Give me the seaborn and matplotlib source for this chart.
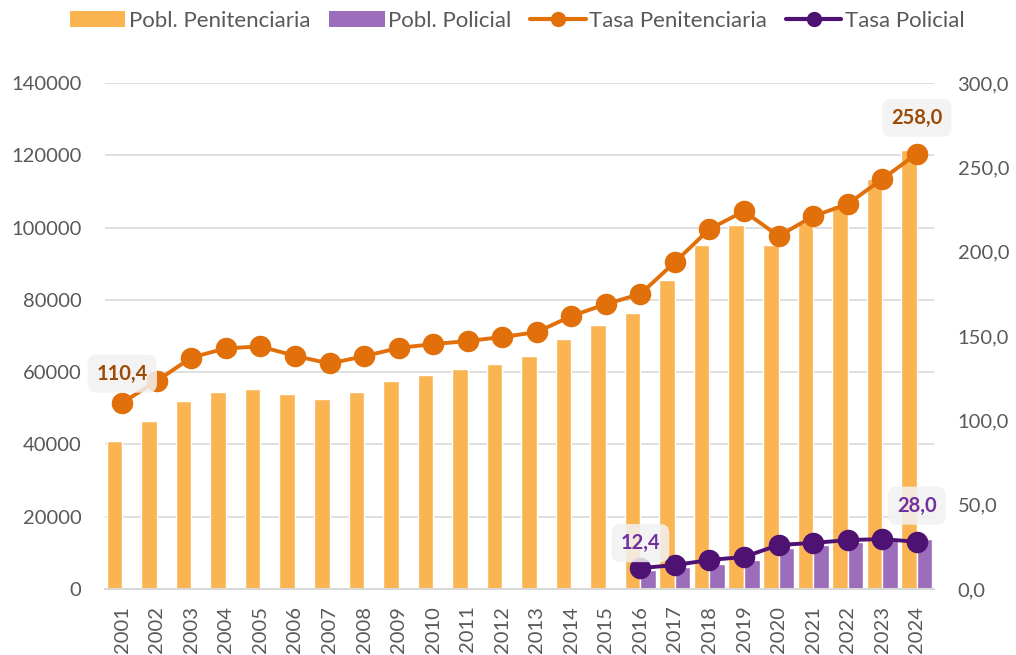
import numpy as np
import pandas as pd
import matplotlib
matplotlib.use("Agg")
import matplotlib.pyplot as plt
from matplotlib.patches import Patch
from matplotlib.lines import Line2D
from matplotlib.ticker import FuncFormatter, MultipleLocator
import seaborn as sns

years = ["2001", "2002", "2003", "2004", "2005", "2006", "2007", "2008", "2009", "2010",
         "2011", "2012", "2013", "2014", "2015", "2016", "2017", "2018", "2019", "2020",
         "2021", "2022", "2023", "2024"]
pobl_pen = [41000, 46400, 52000, 54500, 55400, 54000, 52500, 54600, 57500, 59200,
            60900, 62200, 64400, 69100, 73000, 76300, 85500, 95100, 100700, 95100,
            101300, 106200, 113400, 121400]
pobl_pol = [np.nan] * 15 + [5200, 6100, 7000, 8000, 11300, 12300, 13000, 13500, 13700]
tasa_pen = [110.4, 123.4, 137.2, 142.7, 143.8, 138.2, 133.7, 138.0, 142.9, 145.2,
            147.0, 149.4, 152.3, 161.8, 168.9, 174.9, 193.8, 213.4, 224.0, 209.2,
            221.0, 228.2, 243.0, 258.0]
tasa_pol = [np.nan] * 15 + [12.4, 14.2, 17.2, 19.0, 26.1, 27.3, 29.0, 29.6, 28.0]

series_names = ["Pobl. Penitenciaria", "Pobl. Policial", "Tasa Penitenciaria", "Tasa Policial"]

c_bar_pen = "#FBB452"
c_bar_pol = "#9B6DBB"
c_line_pen = "#E2700A"
c_line_pol = "#4E1272"
c_lab_pen = "#9C4A06"
c_lab_pol = "#7030A0"
c_text = "#595959"
c_grid = "#D9D9D9"

sns.set_theme(style="white")
plt.rcParams["font.family"] = ["Lato", "DejaVu Sans"]

bars = pd.DataFrame({
    "year": years * 2,
    "value": pobl_pen + pobl_pol,
    "serie": [series_names[0]] * len(years) + [series_names[1]] * len(years),
})
pos = np.arange(len(years))
lines_pen = pd.DataFrame({"pos": pos, "tasa": tasa_pen}).dropna()
lines_pol = pd.DataFrame({"pos": pos, "tasa": tasa_pol}).dropna()

fig = plt.figure(figsize=(10.16, 6.55), dpi=100)
ax = fig.add_axes([105 / 1016, 1 - 589 / 655, 829 / 1016, (589 - 83) / 655])

sns.barplot(data=bars, x="year", y="value", hue="serie", order=years,
            hue_order=series_names[:2], palette=[c_bar_pen, c_bar_pol],
            saturation=1, width=0.9, gap=0, errorbar=None, legend=False, ax=ax, zorder=2)

ax.set_ylim(0, 140000)
ax.set_xlim(-0.5, len(years) - 0.5)
ax.yaxis.set_major_locator(MultipleLocator(20000))
ax.grid(axis="y", color=c_grid, linewidth=1.2, zorder=0)
ax.set_axisbelow(True)
for s in ["top", "right", "left"]:
    ax.spines[s].set_visible(False)
ax.spines["bottom"].set_color(c_grid)
ax.spines["bottom"].set_linewidth(1.5)
ax.set_xlabel("")
ax.set_ylabel("")
ax.tick_params(axis="y", length=0, pad=17, labelsize=14.5, labelcolor=c_text)
ax.tick_params(axis="x", length=0, pad=12, labelsize=14.5, labelcolor=c_text, labelrotation=90)

ax2 = ax.twinx()
sns.lineplot(data=lines_pen, x="pos", y="tasa", ax=ax2, color=c_line_pen, linewidth=2.8,
             marker="o", markersize=15.5, markeredgewidth=0, zorder=3)
sns.lineplot(data=lines_pol, x="pos", y="tasa", ax=ax2, color=c_line_pol, linewidth=2.8,
             marker="o", markersize=15.5, markeredgewidth=0, zorder=3)
ax2.set_ylim(0, 300)
ax2.set_xlim(-0.5, len(years) - 0.5)
ax2.yaxis.set_major_locator(MultipleLocator(50))
ax2.yaxis.set_major_formatter(FuncFormatter(lambda v, p: f"{v:.1f}".replace(".", ",")))
ax2.tick_params(axis="y", length=0, pad=17, labelsize=14.5, labelcolor=c_text)
ax2.set_xlabel("")
ax2.set_ylabel("")
for s in ax2.spines.values():
    s.set_visible(False)
ax2.grid(False)

def label(i, vals, color, dy):
    v = vals[i]
    ax2.annotate(f"{v:.1f}".replace(".", ","), xy=(i, v), xytext=(0, dy),
                 textcoords="offset points", ha="center", va="center",
                 fontsize=14.5, fontweight="bold", color=color, zorder=5,
                 bbox=dict(boxstyle="round,pad=0.45", fc="#F2F2F2", ec="none", alpha=0.85))

label(0, tasa_pen, c_lab_pen, 21)
label(len(years) - 1, tasa_pen, c_lab_pen, 26)
label(15, tasa_pol, c_lab_pol, 18)
label(len(years) - 1, tasa_pol, c_lab_pol, 26)

handles = [
    Patch(facecolor=c_bar_pen, edgecolor="none"),
    Patch(facecolor=c_bar_pol, edgecolor="none"),
    Line2D([0], [0], color=c_line_pen, lw=3, marker="o", markersize=10),
    Line2D([0], [0], color=c_line_pol, lw=3, marker="o", markersize=10),
]
fig.legend(handles, series_names, loc="center", bbox_to_anchor=(517 / 1016, 1 - 21 / 655),
           ncol=4, frameon=False, fontsize=16, labelcolor=c_text, handlelength=2.5,
           handleheight=0.75, handletextpad=0.15, columnspacing=0.85)

fig.savefig("out.png", dpi=100)
